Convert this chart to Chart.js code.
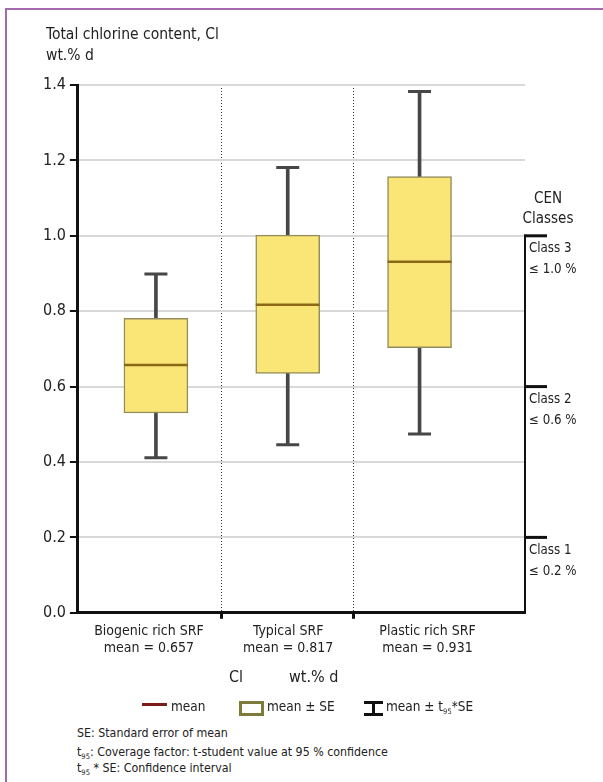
<!DOCTYPE html>
<html>
<head>
<meta charset="utf-8">
<script src="https://cdn.jsdelivr.net/npm/chart.js@4.4.1/dist/chart.umd.min.js"></script>
<style>
  html, body { margin: 0; padding: 0; background: #fff; }
  body { width: 603px; height: 782px; position: relative; overflow: hidden;
         font-family: "DejaVu Sans Condensed", "Liberation Sans Narrow", "Liberation Sans", sans-serif; color: #222; }
  #frameTop { position: absolute; left: 6px; top: 8px; width: 597px; height: 2px; background: #a56aae; }
  #frameLeft { position: absolute; left: 5px; top: 8px; width: 2px; height: 774px; background: #a56aae; }
  #wrap { position: absolute; left: 0; top: 0; width: 603px; height: 700px; }
  .t { position: absolute; white-space: nowrap; line-height: 1; }
  sub { font-size: 7.5px; vertical-align: -3px; line-height: 0; }
  .sw { position: absolute; box-sizing: border-box; }
</style>
</head>
<body>
<div id="frameTop"></div>
<div id="frameLeft"></div>
<div id="wrap"><canvas id="c" width="603" height="700"></canvas></div>

<div class="t" style="left:46px; top:27px; font-size:15.5px;">Total chlorine content, Cl</div>
<div class="t" style="left:46px; top:48px; font-size:15.5px;">wt.% d</div>

<div class="t" style="left:521px; top:191px; width:54px; text-align:center; font-size:15px;">CEN</div>
<div class="t" style="left:521px; top:211px; width:54px; text-align:center; font-size:15px;">Classes</div>

<div class="t" style="left:229px; top:669px; font-size:16px;">Cl</div>
<div class="t" style="left:289px; top:669px; font-size:16px;">wt.% d</div>

<div class="sw" style="left:142px; top:703px; width:25px; height:3px; background:#7a1c1c;"></div>
<div class="t" style="left:171px; top:700px; font-size:13.5px;">mean</div>
<div class="sw" style="left:239px; top:701px; width:25px; height:15px; border:3px solid #7d7a3c; background:#fff;"></div>
<div class="t" style="left:267px; top:700px; font-size:13.5px;">mean ± SE</div>
<div class="sw" style="left:364px; top:701px; width:19px; height:3px; background:#111;"></div>
<div class="sw" style="left:372px; top:701px; width:3px; height:15px; background:#111;"></div>
<div class="sw" style="left:364px; top:713px; width:19px; height:3px; background:#111;"></div>
<div class="t" style="left:386px; top:700px; font-size:13.5px;">mean ± t<sub>95</sub>*SE</div>

<div class="t" style="left:77px; top:727px; font-size:12.3px;">SE: Standard error of mean</div>
<div class="t" style="left:77px; top:746px; font-size:12.3px;">t<sub>95</sub>: Coverage factor: t-student value at 95 % confidence</div>
<div class="t" style="left:77px; top:762px; font-size:12.3px;">t<sub>95</sub> * SE: Confidence interval</div>

<script>
// ---- data ----
const categories = ['Biogenic rich SRF', 'Typical SRF', 'Plastic rich SRF'];
const xPositions = [1, 2, 3];
const dividers = [1.5, 2.5];
const means  = [0.657, 0.817, 0.931];
const seLow  = [0.530, 0.635, 0.703];
const seHigh = [0.781, 1.002, 1.157];
const ciLow  = [0.411, 0.446, 0.474];
const ciHigh = [0.899, 1.181, 1.383];
const yTicks = [0, 0.2, 0.4, 0.6, 0.8, 1.0, 1.2, 1.4];
const classLimits = [1.0, 0.6, 0.2];
const classNames  = ['Class 3', 'Class 2', 'Class 1'];
const classLabels = ['\u2264 1.0 %', '\u2264 0.6 %', '\u2264 0.2 %'];

const FONT = '"DejaVu Sans Condensed", "Liberation Sans Narrow", "Liberation Sans", sans-serif';

const boxData = xPositions.map((x, i) => ({ x: x, y: [seLow[i], seHigh[i]] }));
const whiskerData = xPositions.map((x, i) => ({ x: x, y: [ciLow[i], ciHigh[i]] }));
const capData = xPositions.flatMap((x, i) => [{ x: x, y: ciLow[i] }, { x: x, y: ciHigh[i] }]);
const meanData = xPositions.map((x, i) => ({ x: x, y: means[i] }));

const isDivider = v => dividers.some(d => Math.abs(d - v) < 1e-6);

const classPlugin = {
  id: 'cenClasses',
  afterDraw(chart) {
    const { ctx, chartArea } = chart;
    const y = chart.scales.y;
    const x0 = chartArea.right;
    const yTop = y.getPixelForValue(Math.max(...classLimits));
    const yBot = y.getPixelForValue(0);
    ctx.save();
    ctx.strokeStyle = '#111';
    ctx.lineWidth = 2;
    ctx.beginPath();
    ctx.moveTo(x0, yTop - 1);
    ctx.lineTo(x0, yBot);
    ctx.stroke();
    ctx.lineWidth = 3;
    ctx.font = '13.2px ' + FONT;
    ctx.fillStyle = '#222';
    ctx.textBaseline = 'middle';
    classLimits.forEach((v, i) => {
      const py = y.getPixelForValue(v);
      ctx.beginPath();
      ctx.moveTo(x0 - 1, py);
      ctx.lineTo(x0 + 22, py);
      ctx.stroke();
      ctx.fillText(classNames[i], x0 + 4, py + 13);
      ctx.fillText(classLabels[i], x0 + 4, py + 34);
    });
    ctx.restore();
  }
};

new Chart(document.getElementById('c'), {
  type: 'bar',
  data: {
    datasets: [
      {
        type: 'line', data: meanData, showLine: false,
        pointStyle: 'line', pointRadius: 32, pointBorderWidth: 2.5,
        pointBorderColor: '#8a6816', borderColor: '#8a6816', order: 1
      },
      {
        type: 'line', data: capData, showLine: false,
        pointStyle: 'line', pointRadius: 11.5, pointBorderWidth: 3,
        pointBorderColor: '#474747', borderColor: '#474747', order: 1
      },
      {
        data: boxData, grouped: false, barThickness: 64,
        backgroundColor: '#f9e676', borderColor: '#948c5c', borderWidth: 1.5,
        borderSkipped: false, order: 2
      },
      {
        data: whiskerData, grouped: false, barThickness: 3,
        backgroundColor: '#474747', borderWidth: 0, order: 3
      }
    ]
  },
  options: {
    responsive: false,
    animation: false,
    events: [],
    layout: { padding: { left: 39, right: 78, top: 85, bottom: 39 } },
    plugins: { legend: { display: false }, tooltip: { enabled: false } },
    scales: {
      x: {
        type: 'linear', min: 0.408, max: 3.80, offset: false, weight: 0,
        afterBuildTicks: s => { s.ticks = dividers.map(v => ({ value: v })); },
        grid: {
          offset: false,
          color: '#333',
          lineWidth: 1,
          tickColor: '#111',
          tickWidth: 3, tickLength: 6, tickBorderDash: []
        },
        border: { color: '#111', width: 3, dash: [1, 2] },
        ticks: { display: false }
      },
      xLabels: {
        type: 'linear', position: 'bottom', axis: 'x',
        min: 0.49, max: 3.70, offset: false, weight: 1,
        afterBuildTicks: s => { s.ticks = xPositions.map(v => ({ value: v })); },
        grid: { display: false, drawTicks: false },
        border: { display: false },
        ticks: {
          autoSkip: false, maxRotation: 0, padding: 5,
          color: '#222',
          font: { family: FONT, size: 14, lineHeight: 1.15 },
          callback: v => {
            const i = xPositions.indexOf(v);
            return i >= 0 ? [categories[i], 'mean = ' + means[i].toFixed(3)] : '';
          }
        }
      },
      y: {
        min: 0, max: 1.4,
        afterBuildTicks: s => { s.ticks = yTicks.map(v => ({ value: v })); },
        grid: { color: '#d9d9d9', lineWidth: 2, tickColor: '#111', tickWidth: 2, tickLength: 8 },
        border: { color: '#111', width: 3 },
        ticks: {
          padding: 4, color: '#222',
          font: { family: FONT, size: 16 },
          callback: v => Number(v).toFixed(1)
        }
      }
    }
  },
  plugins: [classPlugin]
});
</script>
</body>
</html>
